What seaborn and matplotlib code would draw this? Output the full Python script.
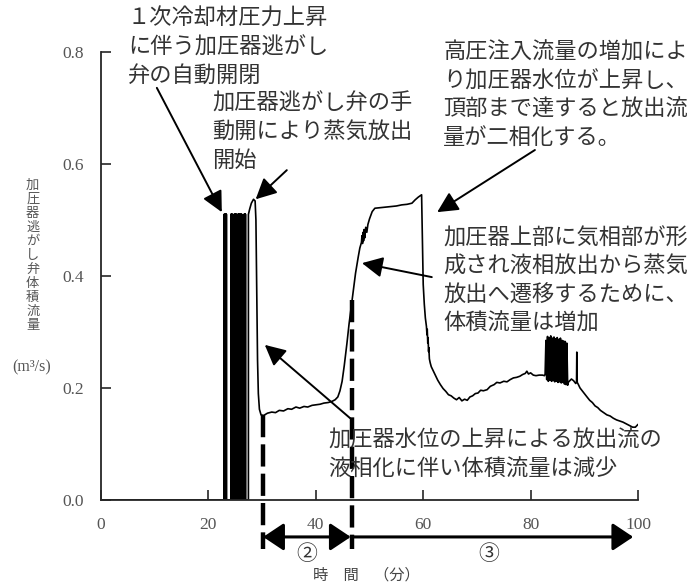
import pandas as pd
import seaborn as sns
import matplotlib.pyplot as plt

sns.set_style("ticks")
plt.rcParams['font.family'] = ['Noto Sans CJK JP', 'DejaVu Sans']

# auto open/close of the relief valve (min); each pulse goes 0 -> pulse_top -> 0
pulse_t = [22.95, 23.1, 23.25, 23.35,
           24.2, 24.35, 24.45,
           24.8, 24.95, 25.1, 25.2,
           25.5, 25.6, 25.75, 25.9, 26.05, 26.2,
           26.65, 26.8, 26.9]
pulse_top = 0.51

# manual opening onward (min, m3/s)
main_t = [27.45, 27.45, 27.7, 28.0, 28.4, 28.7, 28.85, 28.95, 29.05, 29.15, 29.3,
          29.5, 29.8, 30.3, 31.0, 31.8, 32.5, 33.2, 34.0, 34.8, 35.5, 36.3, 37.0,
          37.8, 38.5, 39.3, 40.0, 40.8, 41.5, 42.3, 43.0, 43.6, 44.1, 44.5, 44.9,
          45.3, 45.8, 46.2, 46.6, 47.0, 47.4, 47.9, 48.2, 48.5, 48.6, 48.7, 48.8,
          48.9, 49.0, 49.1, 49.3, 49.5, 49.7, 50.0, 50.5, 51.0, 52.0, 53.0, 54.0,
          55.0, 56.0, 57.0, 57.9, 58.5, 59.1, 59.7, 59.8, 59.9, 60.0, 60.2, 60.4,
          60.6, 60.7, 60.75, 60.85, 60.9, 61.0, 61.05, 61.15, 61.3, 61.5, 61.8,
          62.2, 62.7, 63.2, 63.7, 64.2, 64.7, 65.2, 65.7, 66.2, 66.7, 67.2, 67.7,
          68.2, 68.7, 69.2, 69.7, 70.2, 70.7, 71.2, 71.9, 72.5, 73.2, 73.7, 74.3,
          75.0, 75.6, 76.2, 76.8, 77.4, 78.0, 78.5, 79.0, 79.3, 79.6, 80.0, 80.5,
          81.0, 81.6, 82.2, 82.6]
main_q = [0.0, 0.51, 0.52, 0.53, 0.537, 0.534, 0.5, 0.42, 0.33, 0.25, 0.19,
          0.162, 0.152, 0.151, 0.155, 0.157, 0.156, 0.16, 0.159, 0.163, 0.162, 0.166, 0.164,
          0.167, 0.166, 0.169, 0.17, 0.171, 0.173, 0.174, 0.176, 0.179, 0.184, 0.195, 0.212,
          0.24, 0.28, 0.315, 0.345, 0.375, 0.405, 0.434, 0.45, 0.46, 0.472, 0.458, 0.478,
          0.463, 0.483, 0.468, 0.487, 0.478, 0.492, 0.502, 0.515, 0.521, 0.522, 0.523, 0.524,
          0.525, 0.527, 0.528, 0.53, 0.536, 0.541, 0.545, 0.49, 0.43, 0.385, 0.35, 0.325,
          0.31, 0.295, 0.305, 0.28, 0.29, 0.265, 0.272, 0.252, 0.245, 0.238, 0.232,
          0.224, 0.214, 0.206, 0.199, 0.194, 0.188, 0.186, 0.182, 0.179, 0.183, 0.177, 0.18,
          0.178, 0.184, 0.186, 0.19, 0.191, 0.196, 0.195, 0.197, 0.203, 0.206, 0.21, 0.209,
          0.212, 0.211, 0.215, 0.218, 0.219, 0.221, 0.224, 0.226, 0.23, 0.225, 0.227, 0.223,
          0.222, 0.223, 0.223, 0.222]

# oscillating burst around 83-87 min
burst_t = [82.7, 82.85, 83.0, 83.15, 83.3, 83.45, 83.6, 83.75, 83.9, 84.05, 84.2,
           84.35, 84.5, 84.65, 84.8, 84.95, 85.1, 85.25, 85.4, 85.55, 85.7, 85.85,
           86.0, 86.15, 86.3, 86.45, 86.6, 86.75, 86.9, 87.0]
burst_q = [0.225, 0.285, 0.215, 0.292, 0.212, 0.29, 0.214, 0.293, 0.212, 0.289, 0.213,
           0.291, 0.211, 0.288, 0.212, 0.29, 0.21, 0.287, 0.211, 0.289, 0.209, 0.285,
           0.21, 0.284, 0.207, 0.283, 0.206, 0.28, 0.205, 0.21]

tail_t = [87.2, 87.6, 88.0, 88.4, 88.55, 88.6, 88.68, 88.9, 89.2, 89.6, 90.0, 90.5,
          91.0, 91.5, 92.0, 92.5, 93.0, 93.6, 94.2, 94.8, 95.4, 96.0, 96.6, 97.2,
          97.8, 98.4, 99.0, 99.5, 100.0]
tail_q = [0.212, 0.216, 0.213, 0.208, 0.211, 0.264, 0.21, 0.206, 0.2, 0.195, 0.19, 0.184,
          0.178, 0.174, 0.168, 0.165, 0.16, 0.156, 0.152, 0.15, 0.146, 0.143, 0.141, 0.139,
          0.136, 0.133, 0.13, 0.13, 0.135]

xticks = [0, 20, 40, 60, 80, 100]
yticks = [0.0, 0.2, 0.4, 0.6, 0.8]
ytick_labels = ["0.0", "0.2", "0.4", "0.6", "0.8"]

phase2_start = 30.2
phase3_start = 46.7
phase_end = 99.1

t = [0.0]
q = [0.0]
for p in pulse_t:
    t += [p, p, p]
    q += [0.0, pulse_top, 0.0]
t += main_t + burst_t + tail_t
q += main_q + burst_q + tail_q
df = pd.DataFrame({"time": t, "flow": q})

fig = plt.figure(figsize=(6.96, 5.83), dpi=100)
ax = fig.add_axes([0.1451, 0.1424, 0.7716, 0.7684])
sns.lineplot(data=df, x="time", y="flow", sort=False, estimator=None,
             color="black", lw=1.2, ax=ax)

ax.set_xlim(0, 100)
ax.set_ylim(0, 0.8)
ax.set_xticks(xticks)
ax.set_yticks(yticks)
ax.set_yticklabels(ytick_labels)
ax.set_xlabel("")
ax.set_ylabel("")
sns.despine(ax=ax)
for s in ["left", "bottom"]:
    ax.spines[s].set_linewidth(1.3)
ax.tick_params(direction="in", length=7, width=1.2, pad=12, labelsize=12.5,
               labelcolor="#555555")
for lab in ax.get_xticklabels() + ax.get_yticklabels():
    lab.set_fontfamily("Liberation Serif")

# phase boundaries
dash = (0, (5, 1.6))
ax.plot([phase2_start, phase2_start], [0.152, -0.088], ls=dash, lw=3.2,
        color="black", clip_on=False)
ax.plot([phase3_start, phase3_start], [0.357, -0.088], ls=dash, lw=3.2,
        color="black", clip_on=False)
ax.annotate("", xy=(phase3_start - 0.2, -0.066), xytext=(phase2_start, -0.066),
            annotation_clip=False,
            arrowprops=dict(arrowstyle="<|-|>,head_length=0.9,head_width=0.6",
                            mutation_scale=14, lw=2.2, color="black",
                            shrinkA=0, shrinkB=0))
ax.annotate("", xy=(phase_end, -0.066), xytext=(phase3_start + 0.2, -0.066),
            annotation_clip=False,
            arrowprops=dict(arrowstyle="-|>,head_length=0.9,head_width=0.6",
                            mutation_scale=14, lw=2.2, color="black",
                            shrinkA=0, shrinkB=0))
ax.text(38.4, -0.097, "②", ha="center", va="center", fontsize=15,
        color="#333333", clip_on=False)
ax.text(72.2, -0.097, "③", ha="center", va="center", fontsize=15,
        color="#333333", clip_on=False)

# annotations
txt = dict(fontsize=16, color="#333333", ha="left", va="top", linespacing=1.3,
           clip_on=False)
ax.text(5.0, 0.880, "１次冷却材圧力上昇\nに伴う加圧器逃がし\n弁の自動開閉", **txt)
ax.text(20.7, 0.729, "加圧器逃がし弁の手\n動開により蒸気放出\n開始", **txt)
ax.text(63.7, 0.820, "高圧注入流量の増加によ\nり加圧器水位が上昇し、\n頂部まで達すると放出流\n量が二相化する。", **txt)
ax.text(63.7, 0.488, "加圧器上部に気相部が形\n成され液相放出から蒸気\n放出へ遷移するために、\n体積流量は増加", **txt)
ax.text(42.3, 0.127, "加圧器水位の上昇による放出流の\n液相化に伴い体積流量は減少", **txt)

arrows = [((10.4, 0.736), (22.5, 0.514)),
          ((34.6, 0.589), (28.8, 0.537)),
          ((80.8, 0.625), (62.6, 0.514)),
          ((61.6, 0.398), (48.6, 0.423)),
          ((46.4, 0.146), (30.5, 0.277))]
for tail, head in arrows:
    ax.annotate("", xy=head, xytext=tail, annotation_clip=False,
                arrowprops=dict(arrowstyle="-|>,head_length=0.9,head_width=0.45",
                                mutation_scale=14, lw=1.4, color="black",
                                shrinkA=0, shrinkB=0))

# axis titles
fig.text(0.047, 0.5626, "\n".join("加圧器逃がし弁体積流量"), ha="center", va="center",
         fontsize=9.5, linespacing=1.1, color="#555555")
fig.text(0.045, 0.369, "(m³/s)", ha="center", va="center", fontsize=11.5,
         color="#555555", fontfamily="Liberation Serif")
fig.text(0.526, 0.014, "時　間　（分）", ha="center", va="center", fontsize=11,
         color="#444444")

fig.savefig("out.png", dpi=100)
